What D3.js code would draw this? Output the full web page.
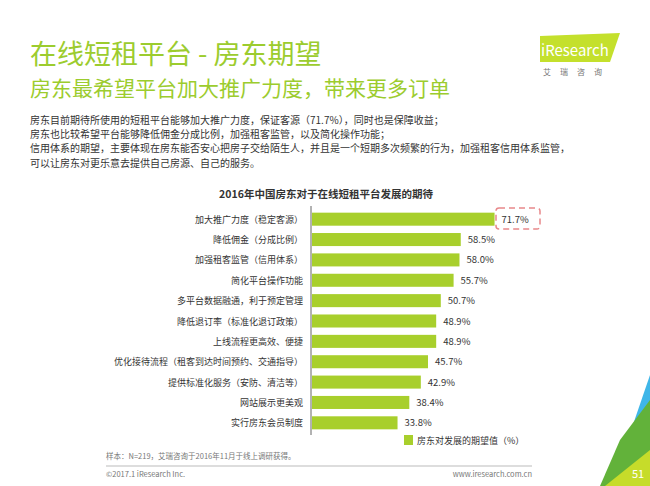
<!DOCTYPE html>
<html>
<head>
<meta charset="utf-8">
<script src="https://d3js.org/d3.v7.min.js"></script>
<style>
  body { margin: 0; background: #fff; }
  text { font-family: "Noto Sans CJK SC", sans-serif; }
</style>
</head>
<body>
<svg id="chart" width="650" height="486"></svg>
<script>
const categories = ["加大推广力度（稳定客源）", "降低佣金（分成比例）", "加强租客监管（信用体系）", "简化平台操作功能",
  "多平台数据融通，利于预定管理", "降低退订率（标准化退订政策）", "上线流程更高效、便捷", "优化接待流程（租客到达时间预约、交通指导）",
  "提供标准化服务（安防、清洁等）", "网站展示更美观", "实行房东会员制度"];
const values = [71.7, 58.5, 58.0, 55.7, 50.7, 48.9, 48.9, 45.7, 42.9, 38.4, 33.8];
const notes = ["房东目前期待所使用的短租平台能够加大推广力度，保证客源（71.7%），同时也是保障收益；",
  "房东也比较希望平台能够降低佣金分成比例，加强租客监管，以及简化操作功能；",
  "信用体系的期望，主要体现在房东能否安心把房子交给陌生人，并且是一个短期多次频繁的行为，加强租客信用体系监管，",
  "可以让房东对更乐意去提供自己房源、自己的服务。"];

const svg = d3.select("#chart");
const green = "#9ccc2e", bar = "#a8cf2c";

svg.append("text").attr("x", 30).attr("y", 64).attr("font-size", 27).attr("fill", green).text("在线短租平台 - 房东期望");
svg.append("text").attr("x", 30).attr("y", 96).attr("font-size", 21).attr("fill", green).text("房东最希望平台加大推广力度，带来更多订单");

// logo
svg.append("path").attr("d", "M540,36 L620,33 L610,62 L540,62 Z").attr("fill", "#c4e02c");
svg.append("text").attr("x", 541).attr("y", 56).attr("font-size", 15).attr("fill", "#fff")
  .attr("font-family", "Open Sans").text("iResearch");
svg.append("text").attr("x", 543).attr("y", 75).attr("font-size", 8).attr("fill", "#777")
  .attr("letter-spacing", 9).text("艾瑞咨询");

svg.append("g").selectAll("text").data(notes).join("text")
  .attr("x", 30).attr("y", (d, i) => 124 + i * 14.2).attr("font-size", 10).attr("fill", "#333").text(d => d);

svg.append("text").attr("x", 326).attr("y", 198).attr("text-anchor", "middle").attr("font-size", 10.5)
  .attr("font-weight", "bold").attr("fill", "#333").text("2016年中国房东对于在线短租平台发展的期待");

const x = d3.scaleLinear().domain([0, 100]).range([311, 567]);
const y = d3.scaleBand().domain(categories).range([209, 433]).paddingInner(0.36).paddingOuter(0.18);

svg.append("line").attr("x1", 311).attr("x2", 311).attr("y1", 206).attr("y2", 435).attr("stroke", "#666");

svg.append("g").selectAll("rect").data(values).join("rect")
  .attr("x", x(0) + 1).attr("y", (d, i) => y(categories[i]))
  .attr("width", d => x(d) - x(0) - 1).attr("height", y.bandwidth()).attr("fill", bar);

svg.append("g").selectAll("text").data(values).join("text")
  .attr("x", d => x(d) + 7).attr("y", (d, i) => y(categories[i]) + y.bandwidth() / 2 + 3.5)
  .attr("font-size", 9.5).attr("fill", "#333").text(d => d.toFixed(1) + "%");

svg.append("g").selectAll("text").data(categories).join("text")
  .attr("x", 303).attr("y", d => y(d) + y.bandwidth() / 2 + 3.5).attr("text-anchor", "end")
  .attr("font-size", 9).attr("fill", "#333").text(d => d);

// highlight box
svg.append("rect").attr("x", 496).attr("y", 208).attr("width", 44).attr("height", 21).attr("rx", 3)
  .attr("fill", "none").attr("stroke", "#e8888a").attr("stroke-width", 1.5).attr("stroke-dasharray", "6,4");

// legend
svg.append("rect").attr("x", 404).attr("y", 435).attr("width", 9).attr("height", 10).attr("fill", bar);
svg.append("text").attr("x", 417).attr("y", 444).attr("font-size", 9).attr("fill", "#333").text("房东对发展的期望值（%）");

svg.append("text").attr("x", 106).attr("y", 459).attr("font-size", 7.5).attr("fill", "#777").text("样本：N=219，艾瑞咨询于2016年11月于线上调研获得。");
svg.append("line").attr("x1", 106).attr("x2", 532).attr("y1", 466).attr("y2", 466).attr("stroke", "#bbb");
svg.append("text").attr("x", 106).attr("y", 477).attr("font-size", 7.5).attr("fill", "#777").text("©2017.1 iResearch Inc.");
svg.append("text").attr("x", 532).attr("y", 477).attr("text-anchor", "end").attr("font-size", 7.5).attr("fill", "#777").text("www.iresearch.com.cn");

// corner
svg.append("path").attr("d", "M650,375 L650,486 L612,486 Z").attr("fill", "#3fb6e8");
svg.append("path").attr("d", "M650,400 L650,486 L600,486 L620,440 Z").attr("fill", "#62b23a");
svg.append("path").attr("d", "M650,450 L650,486 L605,486 Z").attr("fill", "#c6dc2a");
svg.append("text").attr("x", 638).attr("y", 478).attr("text-anchor", "middle").attr("font-size", 11).attr("fill", "#fff").text("51");
</script>
</body>
</html>
